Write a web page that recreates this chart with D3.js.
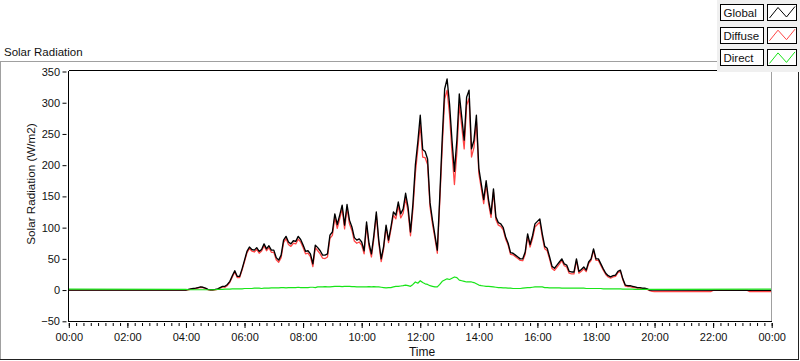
<!DOCTYPE html>
<html>
<head>
<meta charset="utf-8">
<script src="https://cdn.jsdelivr.net/npm/d3@7"></script>
<style>
  body { margin: 0; background: #fff; }
  text { font-family: "Liberation Sans", Arial, sans-serif; fill: #111; }
</style>
</head>
<body>
<div id="chart"></div>
<script>
// Samples every 5 minutes from 04:00 to 20:00, W/m2 (one row = one hour)
const sampleStart = "04:00";
const sampleStepMinutes = 5;

const globalValues = [
  0, 1, 2, 2.5, 3, 4, 5, 4.5, 3, 1, 0.5, 0.5,
  1, 2, 4, 6, 6, 9, 14, 23, 31, 22, 22, 34,
  48, 62, 69, 65, 64, 68, 62, 65, 74, 66, 71, 64,
  64, 52, 48, 56, 80, 86, 77, 74, 79, 78, 86, 81,
  72, 62, 63, 58, 42, 72, 68, 63, 56, 56, 58, 88,
  93, 122, 105, 120, 136, 104, 137, 112, 101, 84, 80, 82,
  77, 63, 109, 75, 58, 88, 125, 80, 50, 70, 104, 80,
  101, 125, 120, 141, 122, 130, 155, 133, 93, 138, 200, 237,
  280, 225, 222, 210, 140, 112, 88, 64, 150, 242, 322, 338,
  298, 240, 190, 240, 314, 277, 240, 309, 320, 226, 240, 280,
  195, 170, 145, 175, 144, 122, 162, 117, 108, 106, 100, 85,
  75, 60, 59, 56, 53, 50, 50, 61, 90, 73, 87, 106,
  110, 114, 90, 70, 67, 53, 38, 35, 40, 45, 50, 42,
  40, 30, 29, 29, 50, 30, 33, 37, 32, 45, 50, 66,
  50, 50, 42, 34, 27, 23, 21, 23, 24, 30, 32, 18,
  8, 7, 7, 6, 5, 4, 4, 3, 3, 2, 0, 0,
  0
];

const diffuseValues = [
  0, 0.5, 1.5, 2, 2.5, 3.5, 4.5, 4, 2.5, 0.5, 0, 0,
  0.5, 1, 3, 5, 4.5, 7.5, 12.5, 21, 29, 20, 20, 32,
  45.5, 59.5, 66.5, 62.5, 61, 65, 59, 62.5, 71, 63, 68, 60.5,
  60.5, 48.5, 44.5, 52, 76, 82.5, 73, 70, 75, 74, 81.5, 77,
  68, 58, 59, 53.5, 37.5, 68, 63, 58, 51, 50.5, 53, 83,
  87.5, 116, 99, 114, 130.5, 98, 131, 106, 95.5, 78.5, 75, 77,
  72, 58, 104, 69.5, 53, 82.5, 120, 75, 45.5, 66, 100.5, 76,
  97, 120, 114, 135, 115.5, 123, 147, 126, 87, 129, 187, 226,
  265, 213, 212, 201, 133, 106, 83, 59, 141, 228, 306, 320,
  281, 221, 169, 220, 298, 262, 226, 296, 307, 213, 228, 270,
  187, 163, 138.5, 169, 138, 116.5, 157, 112.5, 104, 102, 96.5, 81.5,
  72, 57, 56.5, 53.5, 50.5, 47.5, 47, 57.5, 86, 69, 82.5, 101,
  105, 109, 85, 66, 63, 49.5, 34.5, 31.5, 36.5, 41.5, 47, 39,
  37, 27, 26, 26, 47, 27, 30, 34, 29.5, 42.5, 47.5, 63.5,
  47.5, 47.5, 39.5, 32, 25, 21, 19, 21, 22, 28, 30, 16.5,
  6.5, 5.5, 5.5, 4.5, 4, 3, 3, 2, 2, 1, -1, -2,
  -2.5
];

const directValues = [
  1, 0.5, 0.5, 0.5, 0.5, 0.5, 0.5, 0.5, 0.5, 0.5, 0.5, 0.5,
  0.5, 1, 1, 1, 1.5, 1.5, 1.5, 2, 2, 2, 2, 2,
  2.5, 2.5, 2.5, 2.5, 3, 3, 3, 2.5, 3, 3, 3, 3.5,
  3.5, 3.5, 3.5, 4, 4, 3.5, 4, 4, 4, 4, 4.5, 4,
  4, 4, 4, 4.5, 4.5, 4, 5, 5, 5, 5.5, 5, 5,
  5.5, 6, 6, 6, 5.5, 6, 6, 6, 5.5, 5.5, 5, 5,
  5, 5, 5, 5.5, 5, 5.5, 5, 5, 4.5, 4, 3.5, 4,
  4, 5, 6, 6, 6.5, 7, 8, 7, 6, 9, 13, 11,
  15, 12, 10, 9, 7, 6, 5, 5, 9, 14, 16, 18,
  17, 19, 21, 20, 16, 15, 14, 13, 13, 13, 12, 10,
  8, 7, 6.5, 6, 6, 5.5, 5, 4.5, 4, 4, 3.5, 3.5,
  3, 3, 2.5, 2.5, 2.5, 2.5, 3, 3.5, 4, 4, 4.5, 5,
  5, 5, 5, 4, 4, 3.5, 3.5, 3.5, 3.5, 3.5, 3, 3,
  3, 3, 3, 3, 3, 3, 3, 3, 2.5, 2.5, 2.5, 2.5,
  2.5, 2.5, 2.5, 2, 2, 2, 2, 2, 2, 2, 2, 1.5,
  1.5, 1.5, 1.5, 1.5, 1, 1, 1, 1, 1, 1, 1, 1,
  1
];

// Night readings outside the sampled window
const globalNight = [["00:00", 0], ["24:00", -0.5]];
const diffuseNight = [["00:00", 0], ["20:05", -2.5], ["21:55", -2.5], ["22:00", -0.5],
  ["23:10", -0.5], ["23:15", -2.5], ["24:00", -2.5]];
const directNight = [["00:00", 1.5], ["24:00", 1.5]];

const seriesNames = ["Global", "Diffuse", "Direct"];
const seriesColors = ["#000000", "#ff4545", "#18e418"];

const xTickLabels = ["00:00", "02:00", "04:00", "06:00", "08:00", "10:00", "12:00",
  "14:00", "16:00", "18:00", "20:00", "22:00", "00:00"];
const yTickValues = [-50, 0, 50, 100, 150, 200, 250, 300, 350];

const width = 800, height = 361;
const plot = { left: 68.5, right: 771.5, top: 70.5, bottom: 321.5 };

const toMinutes = (s) => {
  const [h, m] = s.split(":").map(Number);
  return h * 60 + m;
};

function buildSeries(values, night) {
  const start = toMinutes(sampleStart);
  const pts = values.map((v, i) => ({ t: start + i * sampleStepMinutes, v: v }));
  night.forEach(([s, v]) => pts.push({ t: toMinutes(s), v: v }));
  return pts.sort((a, b) => a.t - b.t);
}

const series = [
  buildSeries(globalValues, globalNight),
  buildSeries(diffuseValues, diffuseNight),
  buildSeries(directValues, directNight),
];

const svg = d3.select("#chart").append("svg")
  .attr("width", width)
  .attr("height", height);

svg.append("rect").attr("width", width).attr("height", height).attr("fill", "#fff");

const x = d3.scaleLinear().domain([0, 1440]).range([68.8, 771.7]);
const y = d3.scaleLinear().domain([-50, 350]).range([321.3, 71.5]);

// Outer frame
const frame = svg.append("g").attr("shape-rendering", "crispEdges");
frame.append("line").attr("x1", 0).attr("x2", 717).attr("y1", 61.5).attr("y2", 61.5).attr("stroke", "#a0a0a0");
frame.append("line").attr("x1", 0.5).attr("x2", 0.5).attr("y1", 61).attr("y2", 360).attr("stroke", "#a0a0a0");
frame.append("line").attr("x1", 0).attr("x2", 799).attr("y1", 359.5).attr("y2", 359.5).attr("stroke", "#222");
frame.append("line").attr("x1", 798.5).attr("x2", 798.5).attr("y1", 72).attr("y2", 360).attr("stroke", "#222");

svg.append("text")
  .attr("x", 4)
  .attr("y", 56)
  .style("font-size", "11.5px")
  .text("Solar Radiation");

// Plot area borders
frame.append("line").attr("x1", plot.right).attr("x2", plot.right).attr("y1", plot.top).attr("y2", plot.bottom).attr("stroke", "#a0a0a0");
frame.append("line").attr("x1", plot.left).attr("x2", plot.right).attr("y1", plot.top).attr("y2", plot.top).attr("stroke", "#000");
frame.append("line").attr("x1", plot.left).attr("x2", plot.left).attr("y1", plot.top).attr("y2", plot.bottom + 0.5).attr("stroke", "#000");
frame.append("line").attr("x1", plot.left).attr("x2", plot.right).attr("y1", plot.bottom).attr("y2", plot.bottom).attr("stroke", "#000");

// X axis: minor ticks every 15 min, major every 2 h
const xMinor = svg.append("g")
  .attr("transform", "translate(0,323)")
  .call(d3.axisBottom(x).tickValues(d3.range(0, 1441, 15)).tickSize(3).tickFormat(""));
xMinor.select(".domain").remove();

const xMajor = svg.append("g")
  .attr("transform", "translate(0,323)")
  .call(d3.axisBottom(x)
    .tickValues(d3.range(0, 1441, 120))
    .tickSize(5)
    .tickPadding(5)
    .tickFormat((d, i) => xTickLabels[i]));
xMajor.select(".domain").remove();

const yAxis = svg.append("g")
  .attr("transform", "translate(66.5,0)")
  .call(d3.axisLeft(y).tickValues(yTickValues).tickSize(4).tickPadding(2.5));
yAxis.select(".domain").remove();

svg.selectAll(".tick line").attr("stroke", "#000");
svg.selectAll(".tick text")
  .attr("fill", "#111")
  .style("font-family", '"Liberation Sans", Arial, sans-serif')
  .style("font-size", "11px");

svg.append("text")
  .attr("transform", "translate(35,184) rotate(-90)")
  .attr("text-anchor", "middle")
  .style("font-size", "11.7px")
  .text("Solar Radiation (W/m2)");

svg.append("text")
  .attr("x", 422)
  .attr("y", 356)
  .attr("text-anchor", "middle")
  .style("font-size", "12px")
  .text("Time");

// Lines
svg.append("clipPath").attr("id", "plotClip")
  .append("rect")
  .attr("x", plot.left + 0.5).attr("y", plot.top + 0.5)
  .attr("width", plot.right - plot.left - 1).attr("height", plot.bottom - plot.top - 1);

const line = d3.line()
  .x((d) => x(d.t))
  .y((d) => y(d.v));

const drawOrder = [1, 0, 2];
const strokeWidths = [1.35, 1.3, 1.2];
svg.append("g")
  .attr("clip-path", "url(#plotClip)")
  .selectAll("path.series")
  .data(drawOrder)
  .join("path")
  .attr("class", "series")
  .attr("d", (i) => line(series[i]))
  .attr("fill", "none")
  .attr("stroke", (i) => seriesColors[i])
  .attr("stroke-width", (i) => strokeWidths[i])
  .attr("stroke-linejoin", "round");

// Legend
const legend = svg.append("g").attr("transform", "translate(717,0)");
legend.append("rect").attr("width", 83).attr("height", 72).attr("fill", "#f0f0f0");

const rows = legend.selectAll("g.row")
  .data(seriesNames)
  .join("g")
  .attr("class", "row")
  .attr("transform", (d, i) => `translate(0,${4.5 + i * 22.7})`);

rows.append("rect")
  .attr("x", 3.5).attr("y", 0)
  .attr("width", 42.5).attr("height", 16)
  .attr("fill", "#fff").attr("stroke", "#000")
  .attr("shape-rendering", "crispEdges");

rows.append("text")
  .attr("x", 6.5)
  .attr("y", 12.5)
  .style("font-size", "11.5px")
  .text((d) => d);

rows.append("rect")
  .attr("x", 50.5).attr("y", 0)
  .attr("width", 29).attr("height", 16)
  .attr("fill", "#fff").attr("stroke", "#000")
  .attr("shape-rendering", "crispEdges");

rows.append("path")
  .attr("d", "M52.5,13.5L61,3L69.5,12.5L78,2")
  .attr("fill", "none")
  .attr("stroke", (d, i) => seriesColors[i])
  .attr("stroke-width", 1);
</script>
</body>
</html>
